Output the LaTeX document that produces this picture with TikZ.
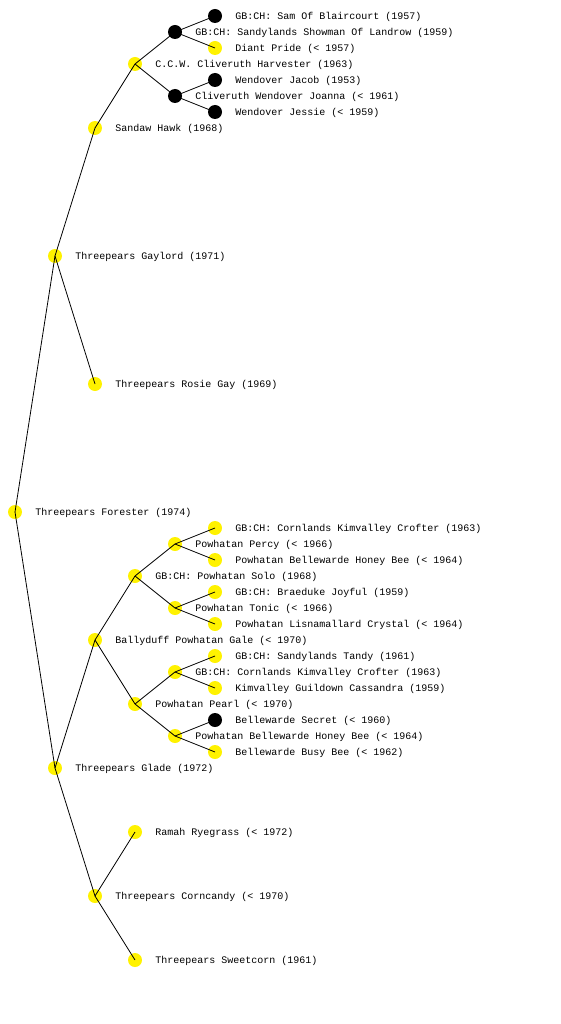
\documentclass[tikz,border=0pt]{standalone}
\usepackage{fontspec}
\newfontfamily\pedigreefont{Liberation Mono}
\begin{document}
\begin{tikzpicture}[
        dog/.style={circle, minimum size=14pt, inner sep=0pt},
        yellown/.style={dog, fill=yellow},
        blackn/.style={dog, fill=black},
        every label/.style={inner sep=0pt, yshift=-0.5pt, font=\pedigreefont\fontsize{10pt}{12pt}\selectfont},
        label distance=13pt,
        edge from parent/.style={draw, line width=0.8pt},
        parent anchor=center, child anchor=center,
        grow'=right,
        level distance=40pt,
        level 1/.style={sibling distance=512pt},
        level 2/.style={sibling distance=256pt},
        level 3/.style={sibling distance=128pt},
        level 4/.style={sibling distance=64pt},
        level 5/.style={sibling distance=32pt},
    ]
    \useasboundingbox (0,0) rectangle (560pt,-1024pt);
    \node[yellown, label={right:{Threepears Forester (1974)}}](forester) at (15pt,-512pt){}
    child{node[yellown, label={right:{Threepears Gaylord (1971)}}](gaylord){}
        child{node[yellown, label={right:{Sandaw Hawk (1968)}}](sandaw){}
            child{node[yellown, label={right:{C.C.W. Cliveruth Harvester (1963)}}](harvester){}
                child{node[blackn, label={right:{GB:CH: Sandylands Showman Of Landrow (1959)}}](showman){}
                    child{node[blackn, label={right:{GB:CH: Sam Of Blaircourt (1957)}}](sam){}}
                    child{node[yellown, label={right:{Diant Pride (< 1957)}}](diant){}}
                }
                child{node[blackn, label={right:{Cliveruth Wendover Joanna (< 1961)}}](joanna){}
                    child{node[blackn, label={right:{Wendover Jacob (1953)}}](jacob){}}
                    child{node[blackn, label={right:{Wendover Jessie (< 1959)}}](jessie){}}
                }
            }
            child[missing]
        }
        child{node[yellown, label={right:{Threepears Rosie Gay (1969)}}](rosie){}}
    }
    child{node[yellown, label={right:{Threepears Glade (1972)}}](glade){}
        child{node[yellown, label={right:{Ballyduff Powhatan Gale (< 1970)}}](gale){}
            child{node[yellown, label={right:{GB:CH: Powhatan Solo (1968)}}](solo){}
                child{node[yellown, label={right:{Powhatan Percy (< 1966)}}](percy){}
                    child{node[yellown, label={right:{GB:CH: Cornlands Kimvalley Crofter (1963)}}](crofter){}}
                    child{node[yellown, label={right:{Powhatan Bellewarde Honey Bee (< 1964)}}](honeybee){}}
                }
                child{node[yellown, label={right:{Powhatan Tonic (< 1966)}}](tonic){}
                    child{node[yellown, label={right:{GB:CH: Braeduke Joyful (1959)}}](joyful){}}
                    child{node[yellown, label={right:{Powhatan Lisnamallard Crystal (< 1964)}}](crystal){}}
                }
            }
            child{node[yellown, label={right:{Powhatan Pearl (< 1970)}}](pearl){}
                child{node[yellown, label={right:{GB:CH: Cornlands Kimvalley Crofter (1963)}}](crofter2){}
                    child{node[yellown, label={right:{GB:CH: Sandylands Tandy (1961)}}](tandy){}}
                    child{node[yellown, label={right:{Kimvalley Guildown Cassandra (1959)}}](cassandra){}}
                }
                child{node[yellown, label={right:{Powhatan Bellewarde Honey Bee (< 1964)}}](honeybee2){}
                    child{node[blackn, label={right:{Bellewarde Secret (< 1960)}}](secret){}}
                    child{node[yellown, label={right:{Bellewarde Busy Bee (< 1962)}}](busybee){}}
                }
            }
        }
        child{node[yellown, label={right:{Threepears Corncandy (< 1970)}}](corncandy){}
            child{node[yellown, label={right:{Ramah Ryegrass (< 1972)}}](ryegrass){}}
            child{node[yellown, label={right:{Threepears Sweetcorn (1961)}}](sweetcorn){}}
        }
    }
    ;
\end{tikzpicture}
\end{document}
